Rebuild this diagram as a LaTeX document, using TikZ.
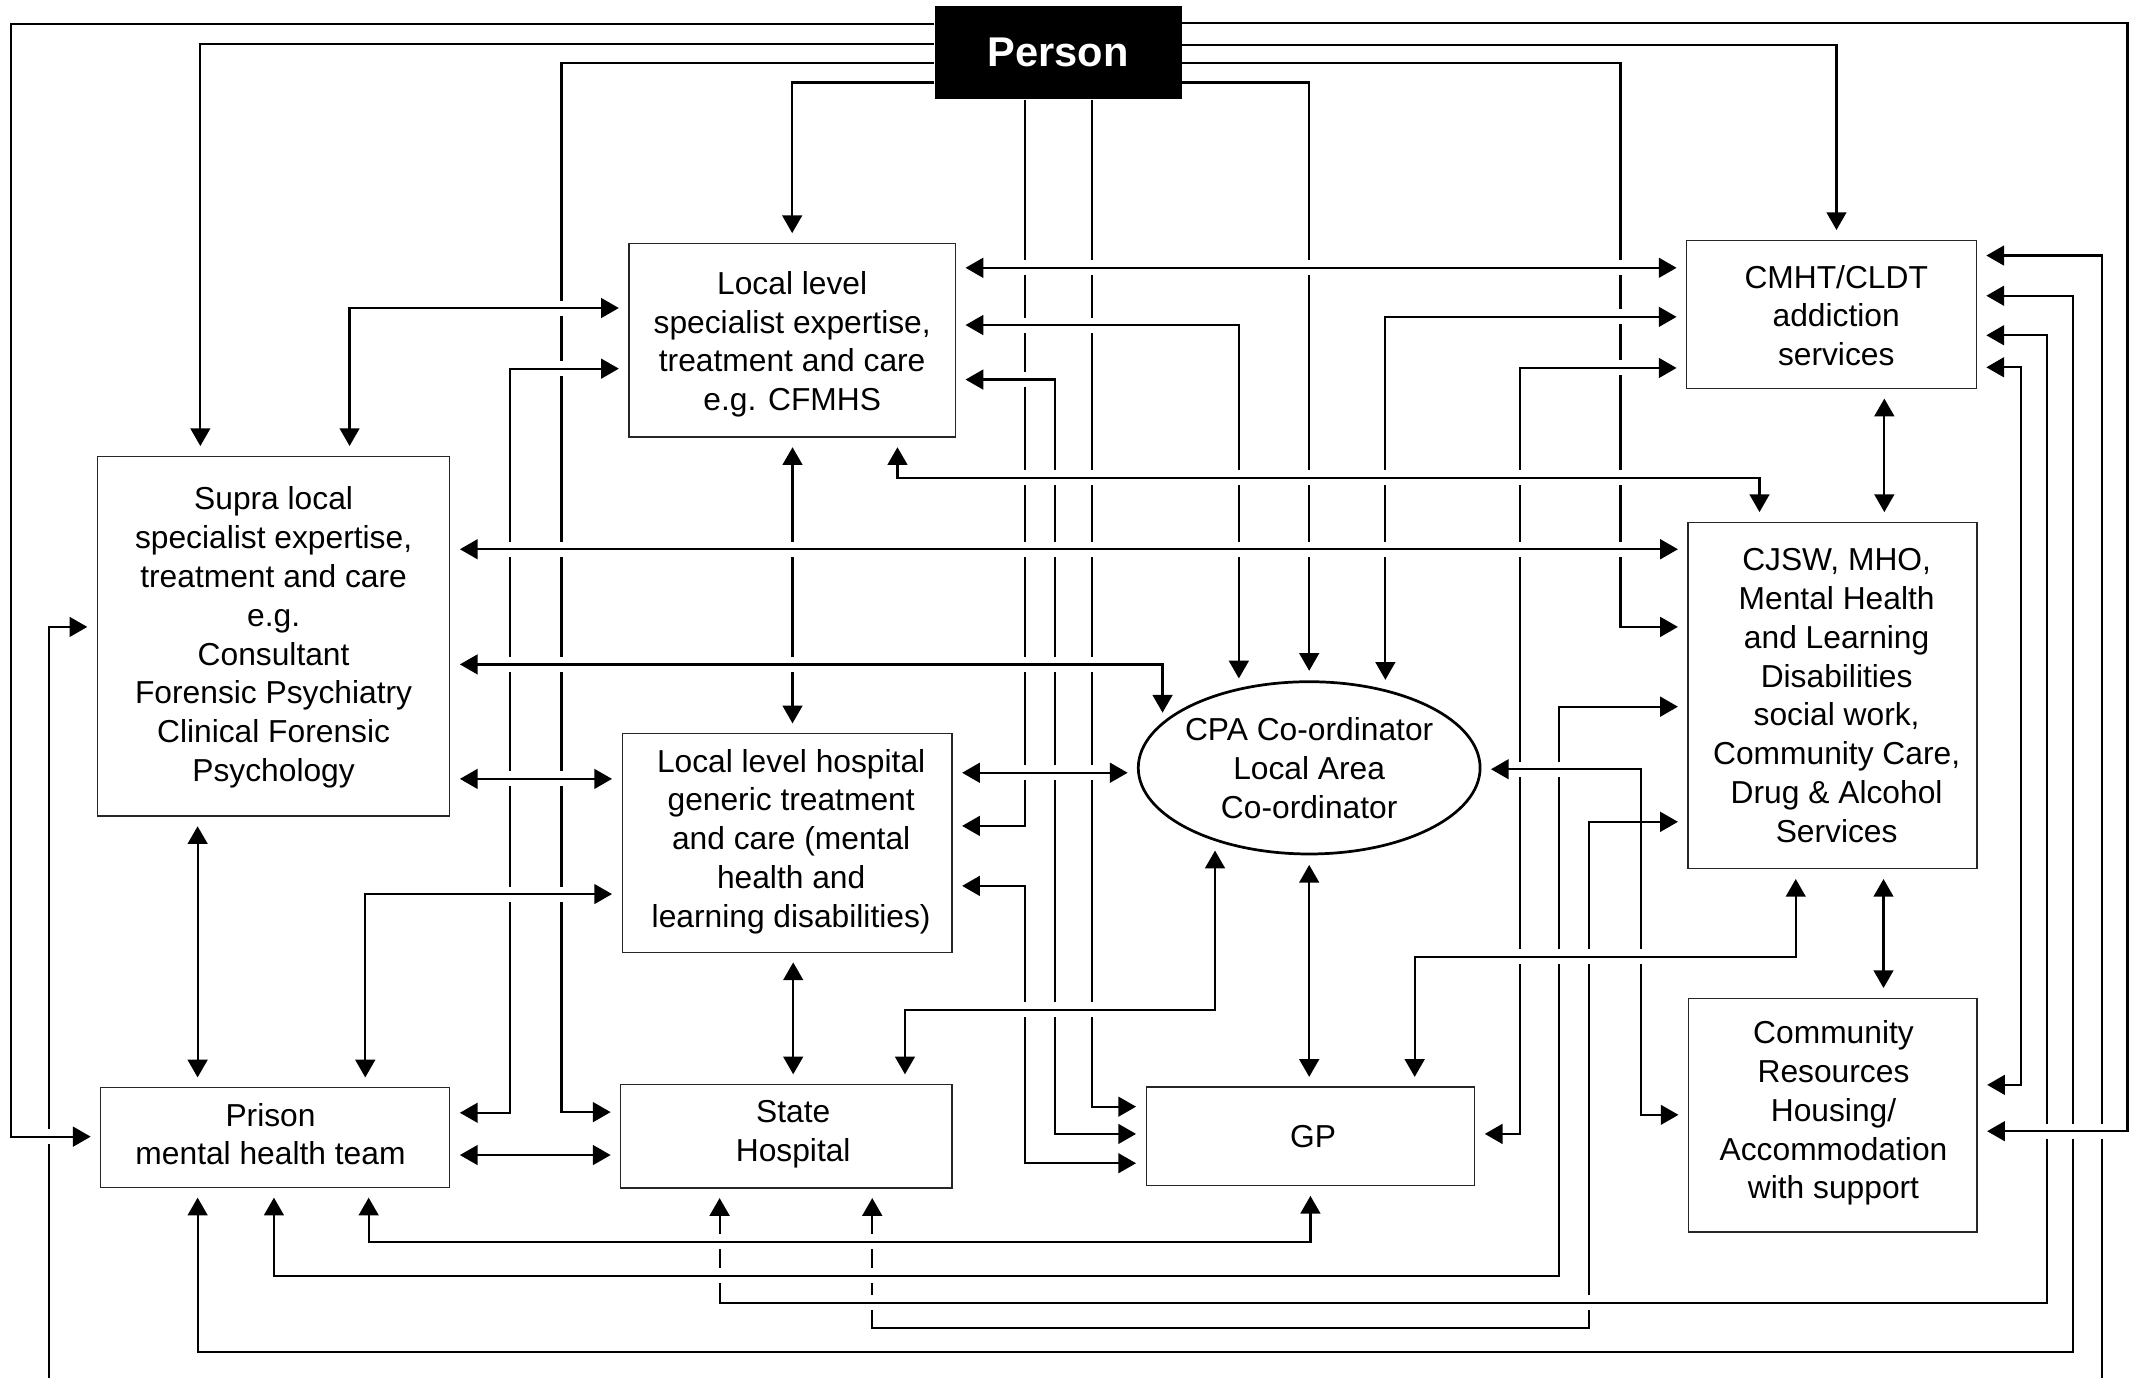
\documentclass[tikz,border=0pt]{standalone}
\usepackage{fontspec}
\setmainfont{Liberation Sans}
\usetikzlibrary{arrows.meta,calc,shapes.geometric}

% a horizontal stretch redrawn over a white band, so vertical lines crossing it show a gap
\newcommand\crosshop[3]{%
  \draw[white,line width=11pt] (#2,#1) -- (#3,#1);
  \draw[conn] (#2,#1) -- (#3,#1);}

\begin{document}
\begin{tikzpicture}[x=1pt,y=-1pt,
  box/.style={draw=black!85,line width=0.9pt,rectangle,inner sep=0pt},
  txt/.style={inner sep=0pt,align=center,font=\fontsize{23.3}{28.5}\selectfont},
  conn/.style={line width=1.6pt},
  tip/.style={-{Triangle[length=13pt,width=14.5pt]},shorten >=7pt},
  both/.style={{Triangle[length=13pt,width=14.5pt]}-{Triangle[length=13pt,width=14.5pt]},
               shorten >=7pt,shorten <=7pt},
]
\fill[white] (0,0) rectangle (1568,1011);
\useasboundingbox (0,0) rectangle (1568,1011);

% ---------- nodes ----------
\node[fill=black,inner sep=0pt,minimum width=181.2pt,minimum height=68.7pt,text=white,
      font=\bfseries\fontsize{30.5}{36}\selectfont] (P) at (776.4,38.55) {Person};

\node[box,minimum width=239.5pt,minimum height=142.2pt] (LLS) at (581.25,249.6) {};
\node[txt] (LLSt) at ($(LLS.center)+(0,3)$)
  {Local level\\specialist expertise,\\treatment and care\\e.g. CFMHS};
\node[box,minimum width=258.5pt,minimum height=264.1pt] (SUP) at (200.75,466.75) {};
\node[txt] (SUPt) at ($(SUP.center)+(0,1)$)
  {Supra local\\specialist expertise,\\treatment and care\\e.g.\\Consultant\\Forensic Psychiatry\\Clinical Forensic\\Psychology};
\node[box,minimum width=212.4pt,minimum height=108.8pt] (CMHT) at (1343.8,230.6) {};
\node[txt] (CMHTt) at ($(CMHT.center)+(3.5,1)$) {CMHT/CLDT\\addiction\\services};
\node[box,minimum width=212pt,minimum height=254.3pt] (CJSW) at (1344.6,510.35) {};
\node[txt] (CJSWt) at ($(CJSW.center)+(3,0)$)
  {CJSW, MHO,\\Mental Health\\and Learning\\Disabilities\\social work,\\Community Care,\\Drug \& Alcohol\\Services};
\node[box,minimum width=242pt,minimum height=160.5pt] (LLH) at (577.5,618.45) {};
\node[txt] (LLHt) at ($(LLH.center)+(3,-1)$)
  {Local level hospital\\generic treatment\\and care (mental\\health and\\learning disabilities)};
\node[box,minimum width=256pt,minimum height=73.3pt] (PRI) at (202,834.65) {};
\node[txt] (PRIt) at ($(PRI.center)+(-3.5,-2.5)$) {Prison\\mental health team};
\node[box,minimum width=243pt,minimum height=75.9pt] (STA) at (577,833.65) {};
\node[txt] (STAt) at ($(STA.center)+(5,-1.5)$) {State\\Hospital};
\node[box,minimum width=241pt,minimum height=72.4pt] (GP) at (961.5,833.8) {};
\node[txt] (GPt) at ($(GP.center)+(2,0)$) {GP};
\node[box,minimum width=211.6pt,minimum height=171.6pt] (COM) at (1344.8,818.2) {};
\node[txt] (COMt) at ($(COM.center)+(0.5,-1.5)$)
  {Community\\Resources\\Housing/\\Accommodation\\with support};

\node[ellipse,draw,line width=2pt,inner sep=0pt,minimum width=250.8pt,minimum height=126.4pt]
  (CPA) at (960.6,563.4) {};
\node[txt] (CPAt) at (CPA.center) {CPA Co-ordinator\\Local Area\\Co-ordinator};

% points on the ellipse where connectors meet it
\coordinate (cA) at ($(CPA.center)+(-51.6,-58.6)$);
\coordinate (cC) at ($(CPA.center)+(55.9,-57.6)$);
\coordinate (cD) at ($(CPA.center)+(-107.6,-33.5)$);
\coordinate (cW) at ($(CPA.center)+(-126.2,3.6)$);
\coordinate (cE) at ($(CPA.center)+(126.4,1)$);
\coordinate (cF) at ($(CPA.center)+(-69.1,53.7)$);
% lines leaving the lower edge of the sheet
\coordinate (cutL) at (36,1011);
\coordinate (cutR) at (1542,1011);

% ---------- connectors from the person ----------
\draw[conn,tip] (P.west|-0,17.5) -| (8,834) -- (PRI.west|-0,834);
\draw[conn,tip] (P.east|-0,17) -| (1561,830) -- (COM.east|-0,830);
\draw[conn,tip] (P.west|-0,32.5) -| (SUP.north-|147,0);
\draw[conn,tip] (P.west|-0,46.5) -| (412,816) -- (STA.west|-0,816);
\draw[conn,tip] (P.west|-0,60.5) -| (LLS.north);
\draw[conn,tip] (P.south-|752,0) |- (LLH.east|-0,606);
\draw[conn,tip] (P.south-|801,0) |- (GP.west|-0,812);
\draw[conn,tip] (P.east|-0,60.5) -| (CPA.north);
\draw[conn,tip] (P.east|-0,46.5) -| (1189,460) -- (CJSW.west|-0,460);
\draw[conn,tip] (P.east|-0,33) -| (CMHT.north-|1347.5,0);

% ---------- connectors between services ----------
\draw[conn,both] (LLS.east|-0,196.5) -- (CMHT.west|-0,196.5);
\draw[conn,both] (LLS.east|-0,238.5) -| (cA);
\draw[conn,both] (LLS.east|-0,278.5) -| (774,832) -- (GP.west|-0,832);
\draw[conn,both] (CMHT.west|-0,232.5) -| (cC);
\draw[conn,both] (CMHT.west|-0,270) -| (1115,832) -- (GP.east|-0,832);
\draw[conn,both] (CMHT.south-|1382.6,0) -- (CJSW.north-|1382.6,0);
\draw[conn,both] (LLS.south-|658.5,0) |- (1291,350.5) -- (CJSW.north-|1291,0);
\draw[conn,both] (SUP.east|-0,403) -- (CJSW.west|-0,403);
\draw[conn,both] (SUP.east|-0,487.5) -| (cD);
\draw[conn,both] (SUP.east|-0,571.5) -- (LLH.west|-0,571.5);
\draw[conn,both] (LLS.south-|581.5,0) -- (LLH.north-|581.5,0);
\draw[conn,both] (SUP.north-|256.5,0) |- (LLS.west|-0,226);
\draw[conn,both] (PRI.east|-0,816.5) -| (374.5,270.5) -- (LLS.west|-0,270.5);
\draw[conn,both] (SUP.south-|145,0) -- (PRI.north-|145,0);
\draw[conn,both] (PRI.north-|268,0) |- (LLH.west|-0,656);
\draw[conn,both] (PRI.east|-0,847.5) -- (STA.west|-0,847.5);
\draw[conn,both] (LLH.south-|582,0) -- (STA.north-|582,0);
\draw[conn,both] (STA.north-|664,0) |- (891.5,741) -- (cF);
\draw[conn,both] (LLH.east|-0,567) -- (cW);
\draw[conn,both] (LLH.east|-0,650) -| (752,853.5) -- (GP.west|-0,853.5);
\draw[conn,both] (CPA.south) -- (CPA.south|-GP.north);
\draw[conn,both] (GP.north-|1038,0) |- (1317.6,702) -- (CJSW.south-|1317.6,0);
\draw[conn,both] (CJSW.south-|1382,0) -- (COM.north-|1382,0);
\draw[conn,both] (cE) -| (1204,818) -- (COM.west|-0,818);
\draw[conn,both] (CJSW.west|-0,518.5) -| (1143.6,936) -| (PRI.south-|201,0);
\draw[conn,both] (CJSW.west|-0,603) -| (1166,974.5) -| (STA.south-|640,0);
\draw[conn,both] (PRI.south-|270.5,0) -- (270.5,911) -| (GP.south);
\draw[conn,both] (CMHT.east|-0,269.5) -| (1482.6,796) -- (COM.east|-0,796);
\draw[conn,both] (CMHT.east|-0,246) -| (1502,956) -| (STA.south-|528,0);
\draw[conn,both] (CMHT.east|-0,217) -| (1521,992) -| (PRI.south-|145,0);
\draw[conn,tip] (cutR) |- (CMHT.east|-0,187.5);
\draw[conn,tip] (cutL) |- (SUP.west|-0,460);

% ---------- gaps where vertical lines pass under horizontal ones ----------
\crosshop{196.5}{725}{1215}
\crosshop{226}{395}{430}
\crosshop{232.5}{1170}{1210}
\crosshop{238.5}{730}{890}
\crosshop{270}{1170}{1210}
\crosshop{270.5}{395}{435}
\crosshop{278.5}{735}{765}
\crosshop{350.5}{680}{1275}
\crosshop{403}{355}{1212}
\crosshop{487.5}{355}{840}
\crosshop{564.4}{1108}{1190}
\crosshop{567}{725}{810}
\crosshop{571.5}{355}{430}
\crosshop{656}{290}{430}
\crosshop{702}{1060}{1300}
\crosshop{741}{690}{870}
\crosshop{830}{1490}{1552}
\crosshop{834}{20}{50}
\crosshop{911}{290}{940}
\crosshop{936}{220}{1120}
\crosshop{956}{550}{1480}
\end{tikzpicture}
\end{document}
